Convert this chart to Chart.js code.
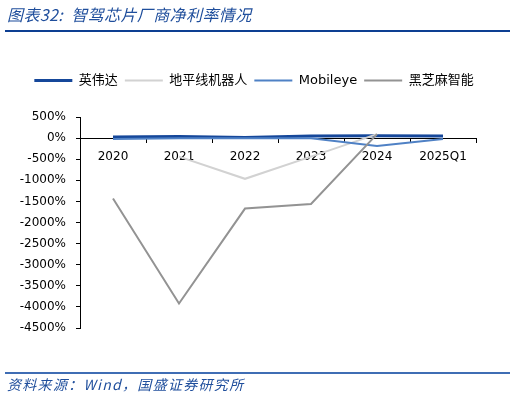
<!DOCTYPE html>
<html>
<head>
<meta charset="utf-8">
<script src="https://cdn.jsdelivr.net/npm/chart.js@4"></script>
<style>
  html, body { margin: 0; padding: 0; background: #fff; }
  #wrap { position: relative; width: 515px; height: 398px; overflow: hidden; }
  #chart { position: absolute; left: 0; top: 0; }
  .title { position: absolute; left: 7px; top: 2px; font: italic 16px "Noto Sans CJK SC", sans-serif; color: #1f4e9c; white-space: nowrap; letter-spacing: 0.4px; }
  .title span { margin-left: 8px; }
  .rule1 { position: absolute; left: 5px; width: 505px; top: 30px; height: 2px; background: #0d3f92; }
  .rule2 { position: absolute; left: 5px; width: 505px; top: 372px; height: 2px; background: #3f6db4; }
  .source { position: absolute; left: 7px; top: 374px; font: italic 14px "Noto Sans CJK SC", sans-serif; color: #1f4e9c; white-space: nowrap; letter-spacing: 1.3px; }
</style>
</head>
<body>
<div id="wrap">
  <canvas id="chart" width="515" height="398"></canvas>
  <div class="title">图表32:<span>智驾芯片厂商净利率情况</span></div>
  <div class="rule1"></div>
  <div class="rule2"></div>
  <div class="source">资料来源：Wind，国盛证券研究所</div>
</div>
<script>
// net margin data (%)
var years = ['2020', '2021', '2022', '2023', '2024', '2025Q1'];
var nvidia = [26, 36, 16, 49, 56, 52];
var horizon = [null, -440, -965, -440, 95, null];
var mobileye = [-20, -5, -4, -1, -187, -20];
var blackSesame = [-1430, -3920, -1670, -1560, 95, null];
var yTicks = [500, 0, -500, -1000, -1500, -2000, -2500, -3000, -3500, -4000, -4500];

var names = ['英伟达', '地平线机器人', 'Mobileye', '黑芝麻智能'];
var colors = ['#15479a', '#d2d2d2', '#4f81c5', '#939393'];

Chart.defaults.font.family = '"DejaVu Sans", "Noto Sans CJK SC", sans-serif';
Chart.defaults.font.size = 12;
Chart.defaults.color = '#000';

// legend sits further from the plot and a bit right of the default centre
var legendGap = {
  id: 'legendGap',
  beforeInit: function(chart) {
    var fit = chart.legend.fit;
    chart.legend.fit = function() {
      fit.call(this);
      this.height += 20;
    };
    var draw = chart.legend.draw;
    chart.legend.draw = function() {
      this.ctx.save();
      this.ctx.translate(16, 0);
      draw.call(this);
      this.ctx.restore();
    };
  }
};

function line(i, data, width, order) {
  return {
    label: names[i],
    data: data,
    borderColor: colors[i],
    backgroundColor: colors[i],
    borderWidth: width,
    pointRadius: 0,
    tension: 0,
    order: order
  };
}

var ctx = document.getElementById('chart').getContext('2d');
var netMarginChart = new Chart(ctx, {
  type: 'line',
  data: {
    labels: years,
    datasets: [
      line(0, nvidia, 3, 4),
      line(1, horizon, 2, 3),
      line(2, mobileye, 2, 2),
      line(3, blackSesame, 2, 1)
    ]
  },
  options: {
    responsive: false,
    animation: false,
    layout: { padding: { top: 67, bottom: 70, left: 0, right: 39 } },
    plugins: {
      legend: {
        position: 'top',
        labels: {
          usePointStyle: true,
          pointStyle: 'line',
          pointStyleWidth: 38,
          padding: 7,
          color: '#000',
          font: { size: 13 },
          sort: function(a, b) { return a.datasetIndex - b.datasetIndex; }
        }
      },
      tooltip: { enabled: false }
    },
    scales: {
      x: {
        position: { y: 0 },
        offset: true,
        grid: { drawOnChartArea: false, drawTicks: true, tickLength: 4, color: '#000', offset: true },
        border: { color: '#000', width: 1 },
        ticks: { padding: 8, maxRotation: 0 }
      },
      y: {
        min: -4500,
        max: 500,
        afterFit: function(s) { s.width = 80; },
        afterBuildTicks: function(s) { s.ticks = yTicks.map(function(v) { return { value: v }; }); },
        grid: { drawOnChartArea: false, drawTicks: true, tickLength: 4, color: '#000' },
        border: { color: '#000', width: 1 },
        ticks: { padding: 10, callback: function(v) { return v + '%'; } }
      }
    }
  },
  plugins: [legendGap]
});
</script>
</body>
</html>
